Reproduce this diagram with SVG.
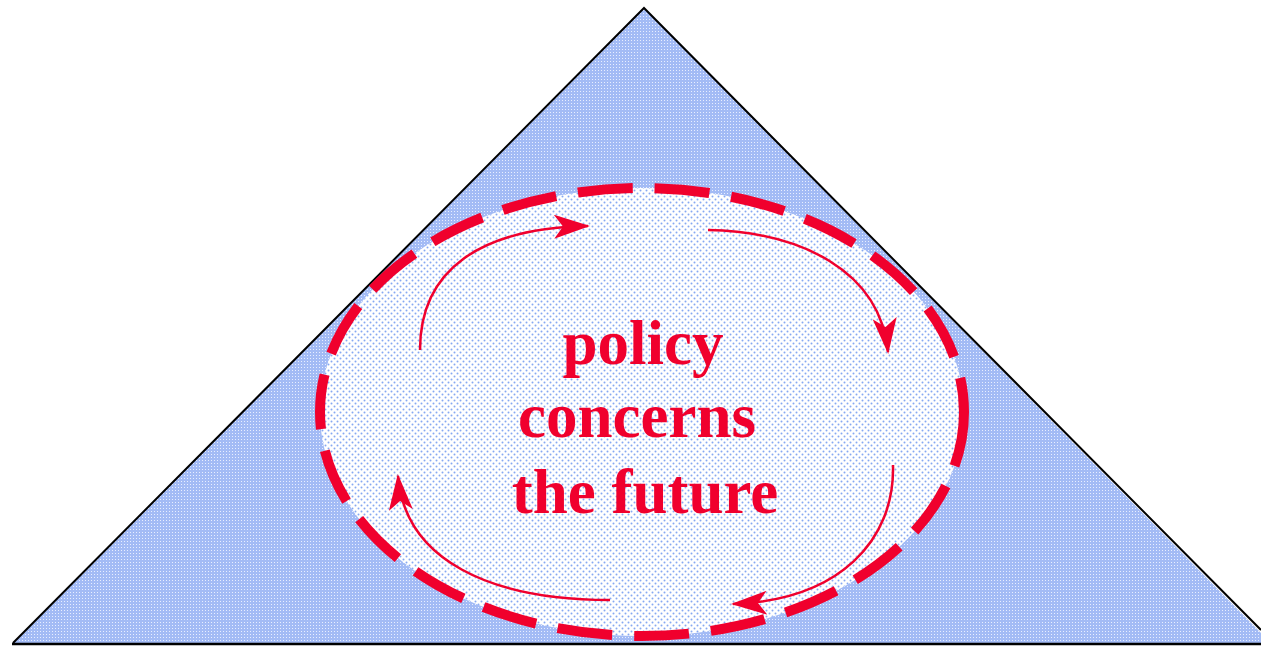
<svg xmlns="http://www.w3.org/2000/svg" width="1261" height="647" viewBox="0 0 1261 647">
<style>
.arc{fill:none;stroke:#f0002d;stroke-width:2.5}
.lbl{font-family:"Liberation Serif","Times New Roman",serif;font-weight:bold;font-size:63px;fill:#f0002d;text-anchor:middle}
</style>
<defs>
<pattern id="dense" width="3" height="3" patternUnits="userSpaceOnUse">
<rect width="3" height="3" fill="#a3bbf5"/>
<rect x="1" y="1" width="1" height="1" fill="#e8eeff"/>
</pattern>
<pattern id="sparse" width="6" height="6" patternUnits="userSpaceOnUse">
<rect width="6" height="6" fill="#ffffff"/>
<circle cx="1.5" cy="1.5" r="1" fill="#86a8f2"/>
<circle cx="4.5" cy="4.5" r="1" fill="#86a8f2"/>
</pattern>
<marker id="ahb" viewBox="0 0 36 24" markerWidth="36" markerHeight="24" refX="34" refY="12" orient="auto" markerUnits="userSpaceOnUse">
<path d="M0,0 L36,12 L0,24 L9,12 Z" fill="#f0002d"/>
</marker>
</defs>
<g id="triangle">
<polygon points="644,8 13,643 1261,643 1261,633" fill="url(#dense)"/>
<polyline points="13,643 644,8 1261,630" fill="none" stroke="#000" stroke-width="2"/>
<line x1="12" y1="644" x2="1261" y2="644" stroke="#000" stroke-width="2.5"/>
</g>
<g id="cycle">
<ellipse cx="642" cy="412" rx="322" ry="224" fill="url(#sparse)" stroke="#f0002d" stroke-width="10" stroke-dasharray="55 22"/>
</g>
<g id="connectors">
<path class="arc" d="M420,350 C420,270 480,228 588,226" marker-end="url(#ahb)"/>
<path class="arc" d="M708,230 C800,232 880,270 888,352" marker-end="url(#ahb)"/>
<path class="arc" d="M893,465 C895,540 840,600 733,604" marker-end="url(#ahb)"/>
<path class="arc" d="M610,600 C490,600 405,560 398,476" marker-end="url(#ahb)"/>
</g>
<g id="label">
<text class="lbl" x="643" y="364">policy</text>
<text class="lbl" x="637" y="437">concerns</text>
<text class="lbl" x="645" y="513">the future</text>
</g>
</svg>
